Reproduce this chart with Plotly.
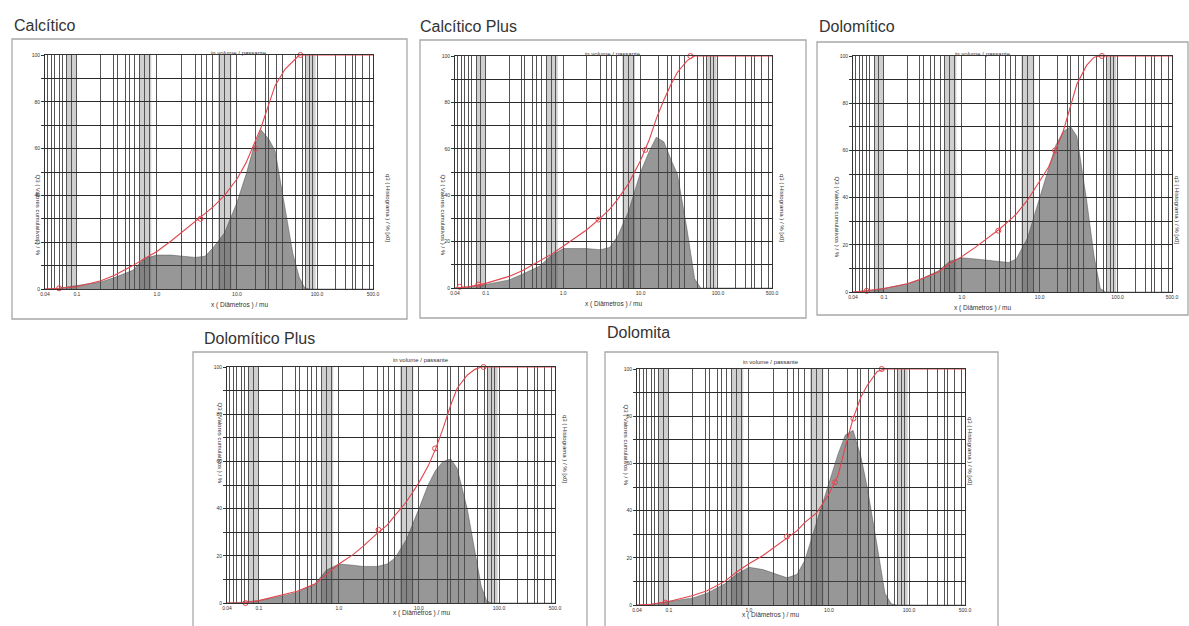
import math
import plotly.graph_objects as go

W, H = 1189, 626

# ---------------- data ----------------
diam = [0.04, 0.06, 0.1, 0.2, 0.3, 0.5, 0.7, 1.0, 1.5, 2, 3, 4, 5, 7, 10, 13,
        16, 20, 25, 30, 40, 50, 60, 70, 80, 100, 500]

names = ["Calcítico", "Calcítico Plus", "Dolomítico", "Dolomítico Plus", "Dolomita"]

hist_calcitico = [0, 0.3, 1.5, 3, 5, 8, 13, 14.5, 14.5, 14, 13.5, 14, 17.5, 24, 37, 49,
                  60, 68, 64, 59, 34, 15, 5, 0.5, 0, 0, 0]
cum_calcitico = [0, 0.3, 1, 3.5, 6, 10, 13, 16, 20.5, 24, 29, 32.5, 35, 40, 47, 54,
                 61, 69, 79, 87, 94, 97.5, 100, 100, 100, 100, 100]
mk_x_calcitico = [0.06, 3.5, 17, 62]
mk_y_calcitico = [0.3, 30, 60, 100]

hist_calc_plus = [0, 0.5, 1.5, 3.5, 6, 9.5, 14, 17, 17, 17, 16.5, 17.5, 22, 33, 50, 59,
                  65, 63, 55, 49, 25, 4, 0, 0, 0, 0, 0]
cum_calc_plus = [0, 0.5, 2, 5, 7.5, 11.5, 14.5, 18, 22, 25, 30, 34, 38, 45, 55, 64,
                 73, 81, 88, 93, 98, 100, 100, 100, 100, 100, 100]
mk_x_calc_plus = [0.046, 0.08, 2.86, 11.5, 44]
mk_y_calc_plus = [0.5, 1.5, 29.5, 59.5, 100]

hist_dolomitico = [0, 0.5, 1.5, 3.5, 5.5, 9, 13, 14.5, 14, 13.5, 13, 12.5, 14, 23, 40, 52,
                   62, 68, 70, 66, 39, 15, 1.5, 0, 0, 0, 0]
cum_dolomitico = [0, 0.5, 1.5, 3.5, 5.5, 8.5, 12, 15, 19, 22, 26.5, 30, 33, 39, 47, 53,
                  60, 68, 79, 88, 96, 99.5, 100, 100, 100, 100, 100]
mk_x_dolomitico = [0.06, 2.94, 15.7, 63]
mk_y_dolomitico = [0.5, 26, 60, 100]

hist_dol_plus = [0, 0.3, 1, 3, 4.5, 8, 14, 16.5, 16, 15.5, 15.5, 16.5, 19, 27, 40, 50,
                 56, 60, 61, 57, 40, 22, 7, 1, 0, 0, 0]
cum_dol_plus = [0, 0, 1, 3.5, 5, 8, 12, 16.5, 20.5, 24, 29.5, 33, 37, 43, 51, 58,
                65, 74, 84, 91, 96.5, 99, 100, 100, 100, 100, 100]
mk_x_dol_plus = [0.068, 3.13, 15.9, 64]
mk_y_dol_plus = [0, 31, 65.5, 100]

hist_dolomita = [0, 0.3, 1.5, 3, 5, 9, 13, 16, 15, 13.5, 11.5, 13, 19, 35, 52, 64,
                 72, 74, 63, 50, 25, 5, 0.5, 0, 0, 0, 0]
cum_dolomita = [0, 0.3, 1.5, 4, 6, 10, 14, 17.5, 21, 24, 28.5, 31.5, 35, 39, 47, 55,
                67, 79, 88, 93, 99, 100, 100, 100, 100, 100, 100]
mk_x_dolomita = [0.09, 2.98, 11.9, 20.2, 45.6]
mk_y_dolomita = [1, 29, 52, 79, 100]

hists = [hist_calcitico, hist_calc_plus, hist_dolomitico, hist_dol_plus, hist_dolomita]
cums = [cum_calcitico, cum_calc_plus, cum_dolomitico, cum_dol_plus, cum_dolomita]
mks_x = [mk_x_calcitico, mk_x_calc_plus, mk_x_dolomitico, mk_x_dol_plus, mk_x_dolomita]
mks_y = [mk_y_calcitico, mk_y_calc_plus, mk_y_dolomitico, mk_y_dol_plus, mk_y_dolomita]

# class-boundary grid of the instrument
grid_x = [0.04, 0.043, 0.048, 0.053, 0.06, 0.066, 0.075, 0.085, 0.1,
          0.2, 0.29, 0.32, 0.4, 0.45, 0.53, 0.6, 0.7, 0.8, 1.0,
          2.0, 3.0, 3.6, 4.2, 4.9, 6.0, 7.0, 8.2, 10,
          17, 22.6, 25, 31.6, 36.5, 54, 65, 72, 80, 88, 100,
          170, 225, 275, 300, 365, 450, 500]
x_labels = {0.04: "0.04", 0.1: "0.1", 1.0: "1.0", 10: "10.0", 100: "100.0", 500: "500.0"}
bands = [[0.075, 0.098], [0.6, 0.85], [5.8, 8.5], [72, 96]]
y_grid = list(range(0, 101, 10))
y_labels = {0: "0", 20: "20", 40: "40", 60: "60", 80: "80", 100: "100"}

# ---------------- layout (pixels) ----------------
plots = [(45, 373, 55, 289), (455, 772, 56, 288), (853, 1172, 56, 292),
         (227, 555, 367, 603), (637, 965, 369, 605)]
boxes = [(12, 407, 39, 319), (420, 806, 40, 318), (817, 1188, 42, 315),
         (193, 587, 352, 640), (605, 998, 352, 640)]
titles = [(12, 26), (418, 27), (817, 27), (202, 338), (605, 332)]

def px(x):
    return x / W

def py(y):
    return 1 - y / H

RED = "#e2454d"
fig = go.Figure()
shapes = []
annotations = []
layout_axes = {}

for i in range(5):
    k = "" if i == 0 else str(i + 1)
    xa, ya = "x" + k, "y" + k
    x0, x1, y0, y1 = plots[i]

    fig.add_trace(go.Scatter(x=diam, y=hists[i], xaxis=xa, yaxis=ya, mode="lines",
                             fill="tozeroy", fillcolor="rgba(75,75,75,0.58)",
                             line=dict(color="rgba(60,60,60,0.7)", width=0.6),
                             showlegend=False, hoverinfo="skip"))
    fig.add_trace(go.Scatter(x=diam, y=cums[i], xaxis=xa, yaxis=ya, mode="lines",
                             line=dict(color=RED, width=1.1), cliponaxis=False,
                             showlegend=False))
    fig.add_trace(go.Scatter(x=mks_x[i], y=mks_y[i], xaxis=xa, yaxis=ya, mode="markers",
                             marker=dict(symbol="circle-open", size=5, color=RED,
                                         line=dict(width=1, color=RED)),
                             cliponaxis=False, showlegend=False))

    layout_axes["xaxis" + k] = dict(
        type="log", range=[math.log10(0.04), math.log10(500)],
        domain=[px(x0), px(x1)], anchor=ya, automargin=False,
        tickmode="array", tickvals=grid_x,
        ticktext=[x_labels.get(v, "") for v in grid_x],
        ticks="", showgrid=True, gridcolor="#555555", gridwidth=0.8,
        showline=True, mirror=True, linecolor="#333", linewidth=1,
        tickfont=dict(size=5, color="#333", family="Liberation Sans"),
        zeroline=False, fixedrange=True)
    layout_axes["yaxis" + k] = dict(
        range=[0, 100], domain=[py(y1), py(y0)], anchor=xa, automargin=False,
        tickmode="array", tickvals=y_grid,
        ticktext=[y_labels.get(v, "") for v in y_grid],
        ticks="outside", ticklen=3, tickcolor="#333",
        showgrid=True, gridcolor="#2a2a2a", gridwidth=1.2,
        showline=True, mirror=True, linecolor="#333", linewidth=1,
        tickfont=dict(size=5, color="#333", family="Liberation Sans"),
        zeroline=False, fixedrange=True)

    for b0, b1 in bands:
        shapes.append(dict(type="rect", xref=xa, yref=ya + " domain", x0=b0, x1=b1,
                           y0=0, y1=1, fillcolor="#cfcfcf", line=dict(width=0),
                           layer="below"))
    bx0, bx1, by0, by1 = boxes[i]
    shapes.append(dict(type="rect", xref="paper", yref="paper", x0=px(bx0), x1=px(bx1),
                       y0=py(by1), y1=py(by0), line=dict(color="#a8a8a8", width=1.3),
                       fillcolor="rgba(0,0,0,0)", layer="below"))

    cx = (x0 + x1) / 2
    annotations.append(dict(text="in volume / passante", xref="paper", yref="paper",
                            x=px(cx), y=py(y0 - 7), showarrow=False,
                            font=dict(size=6, color="#333", family="Liberation Sans")))
    annotations.append(dict(text="x ( Diâmetros ) / mu", xref="paper", yref="paper",
                            x=px(cx), y=py(y1 + 16), showarrow=False,
                            font=dict(size=6.5, color="#333", family="Liberation Sans")))
    annotations.append(dict(text="Q3 ( Valores cumulativos ) / %", xref="paper", yref="paper",
                            x=px(x0 - 12), y=py((y0 + y1) / 2), showarrow=False, textangle=90,
                            font=dict(size=6, color="#333", family="Liberation Sans")))
    annotations.append(dict(text="q3 ( Histograma ) / % [x0]", xref="paper", yref="paper",
                            x=px(x1 + 10), y=py((y0 + y1) / 2), showarrow=False, textangle=90,
                            font=dict(size=6, color="#333", family="Liberation Sans")))
    tx, ty = titles[i]
    annotations.append(dict(text=names[i], xref="paper", yref="paper",
                            x=px(tx), y=py(ty), xanchor="left", yanchor="middle",
                            showarrow=False,
                            font=dict(size=16, color="#333", family="Liberation Sans")))

fig.update_layout(width=W, height=H, margin=dict(l=0, r=0, t=0, b=0, pad=0),
                  autosize=False, showlegend=False,
                  paper_bgcolor="white", plot_bgcolor="white",
                  shapes=shapes, annotations=annotations, **layout_axes)

fig.write_html("out.html", config={"displayModeBar": False},
               post_script="document.body.style.margin='0';document.body.style.overflow='hidden';")
